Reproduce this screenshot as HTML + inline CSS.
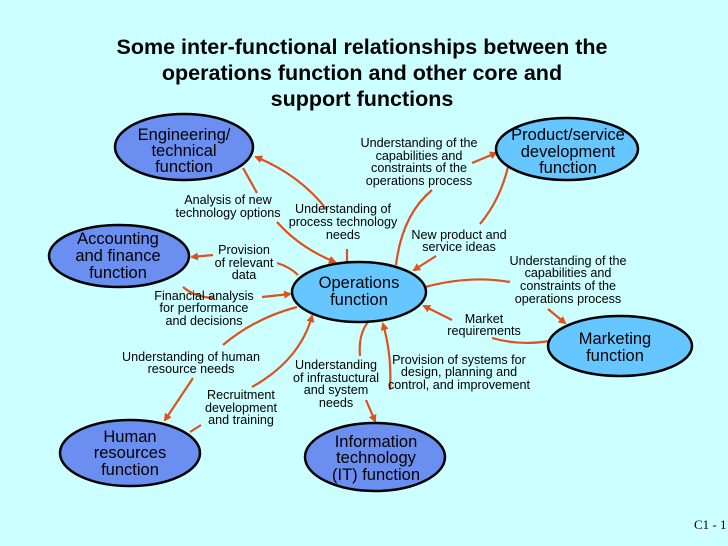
<!DOCTYPE html>
<html><head><meta charset="utf-8"><style>
html,body{margin:0;padding:0;background:#ccffff}
svg{display:block}
text{font-family:"Liberation Sans",sans-serif;fill:#000}
.l{font-size:12.6px}
.e{font-size:16.5px;fill:#0a0a3a}
.p{fill:none;stroke:#e0501e;stroke-width:2.2}
</style></head><body>
<svg width="728" height="546" viewBox="0 0 728 546">
<defs><marker id="a" markerWidth="8" markerHeight="8" refX="6" refY="4" orient="auto" markerUnits="userSpaceOnUse"><path d="M0,0 L8,4 L0,8 z" fill="#e0501e"/></marker></defs>
<rect width="728" height="546" fill="#ccffff"/>
<g font-weight="bold" font-size="21.5" text-anchor="middle">
<text x="362" y="54">Some inter-functional relationships between the</text>
<text x="362" y="80">operations function and other core and</text>
<text x="362" y="106">support functions</text>
</g>
<g class="p">
<path d="M327,210 Q300,175 256,157" marker-end="url(#a)"/>
<path d="M243,168 L257,193"/>
<path d="M277,222 Q300,248 335,262" marker-end="url(#a)"/>
<path d="M347,262 L347,249"/>
<path d="M396,265 Q402,215 432,190"/>
<path d="M472,163 L496,153" marker-end="url(#a)"/>
<path d="M480,224 Q500,200 508,167"/>
<path d="M436,256 L414,270" marker-end="url(#a)"/>
<path d="M425,287 Q470,275 510,282"/>
<path d="M548,309 L565,323" marker-end="url(#a)"/>
<path d="M549,341 Q520,346 492,338"/>
<path d="M452,320 L424,306" marker-end="url(#a)"/>
<path d="M390,390 Q392,355 383,324" marker-end="url(#a)"/>
<path d="M368,322 Q358,335 360,356"/>
<path d="M366,400 L375,421" marker-end="url(#a)"/>
<path d="M252,387 Q300,360 312,316" marker-end="url(#a)"/>
<path d="M223,345 Q255,318 297,307"/>
<path d="M193,378 L165,420" marker-end="url(#a)"/>
<path d="M190,432 L201,425"/>
<path d="M277,263 Q290,267 298,275"/>
<path d="M213,255 L192,257" marker-end="url(#a)"/>
<path d="M183,287 Q195,297 213,298"/>
<path d="M262,297 L290,294" marker-end="url(#a)"/>
</g>
<g stroke="#000" stroke-width="2.5">
<ellipse cx="184" cy="147" rx="69" ry="33" fill="#6a8ff0"/>
<ellipse cx="119" cy="256" rx="70" ry="31" fill="#6a8ff0"/>
<ellipse cx="359" cy="292" rx="67" ry="30" fill="#66c6ff"/>
<ellipse cx="567" cy="149" rx="71" ry="31" fill="#66c6ff"/>
<ellipse cx="620" cy="346" rx="72" ry="30" fill="#66c6ff"/>
<ellipse cx="130" cy="453" rx="70" ry="33" fill="#6a8ff0"/>
<ellipse cx="375" cy="457" rx="70" ry="34" fill="#6a8ff0"/>
</g>
<g class="e" text-anchor="middle">
<text x="184" y="140">Engineering/</text><text x="184" y="156">technical</text><text x="184" y="172">function</text>
<text x="118" y="244">Accounting</text><text x="118" y="261">and finance</text><text x="118" y="278">function</text>
<text x="359" y="288">Operations</text><text x="359" y="305">function</text>
<text x="568" y="140">Product/service</text><text x="568" y="157">development</text><text x="568" y="173">function</text>
<text x="615" y="344">Marketing</text><text x="615" y="361">function</text>
<text x="130" y="442">Human</text><text x="130" y="458">resources</text><text x="130" y="475">function</text>
<text x="376" y="447">Information</text><text x="376" y="463">technology</text><text x="376" y="480">(IT) function</text>
</g>
<g class="l" text-anchor="middle">
<text x="228" y="204">Analysis of new</text><text x="228" y="217">technology options</text>
<text x="343" y="213">Understanding of</text><text x="343" y="226">process technology</text><text x="343" y="239">needs</text>
<text x="419" y="147">Understanding of the</text><text x="419" y="160">capabilities and</text><text x="419" y="172">constraints of the</text><text x="419" y="185">operations process</text>
<text x="459" y="239">New product and</text><text x="459" y="251">service ideas</text>
<text x="568" y="265">Understanding of the</text><text x="568" y="277">capabilities and</text><text x="568" y="290">constraints of the</text><text x="568" y="303">operations process</text>
<text x="244" y="254">Provision</text><text x="244" y="267">of relevant</text><text x="244" y="279">data</text>
<text x="204" y="300">Financial analysis</text><text x="204" y="312">for performance</text><text x="204" y="325">and decisions</text>
<text x="484" y="323">Market</text><text x="484" y="335">requirements</text>
<text x="191" y="361">Understanding of human</text><text x="191" y="373">resource needs</text>
<text x="241" y="399">Recruitment</text><text x="241" y="412">development</text><text x="241" y="424">and training</text>
<text x="336" y="369">Understanding</text><text x="336" y="382">of infrastuctural</text><text x="336" y="394">and system</text><text x="336" y="407">needs</text>
<text x="459" y="364">Provision of systems for</text><text x="459" y="376">design, planning and</text><text x="459" y="389">control, and improvement</text>
</g>
<text x="694" y="529" font-size="13" style="font-family:'Liberation Serif',serif">C1 - 1</text>
</svg>
</body></html>
